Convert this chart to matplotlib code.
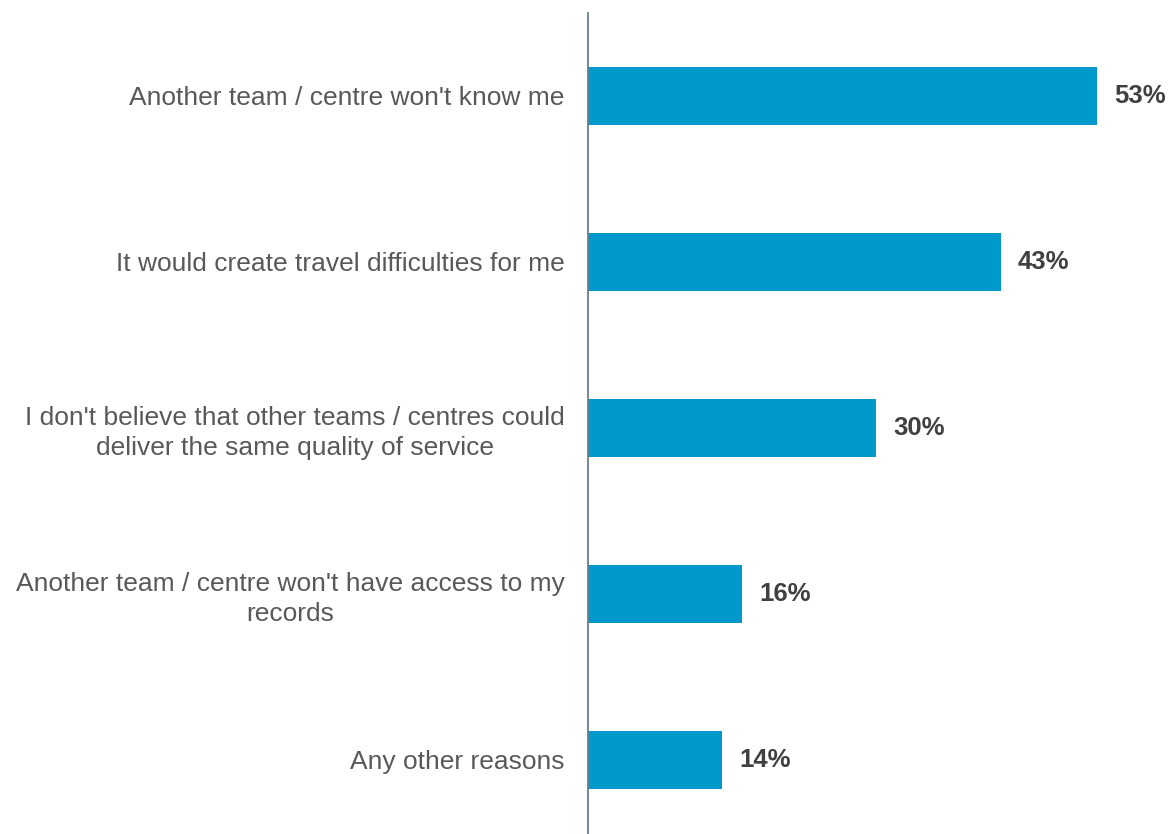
import matplotlib.pyplot as plt

plt.rcParams["font.family"] = ["Liberation Sans", "DejaVu Sans"]

# Reasons and share of respondents (%)
reasons = [
    "Another team / centre won't know me",
    "It would create travel difficulties for me",
    "I don't believe that other teams / centres could\ndeliver the same quality of service",
    "Another team / centre won't have access to my\nrecords",
    "Any other reasons",
]
shares = [53, 43, 30, 16, 14]

bar_color = "#0099CC"
label_color = "#595959"
value_color = "#404040"
axis_color = "#6B7F8E"

fig = plt.figure(figsize=(11.70, 8.34), dpi=100)
ax = fig.add_axes([588 / 1170, 0, 582 / 1170, 821 / 834])

positions = list(range(len(reasons)))
ax.barh(positions, shares, height=0.355, color=bar_color)

for y, v in zip(positions, shares):
    ax.text(v + 1.8, y, f"{v}%", va="center", ha="left",
            fontsize=18.5, fontweight="bold", color=value_color)

ax.set_xlim(0, 582 / 9.6)
ax.set_ylim(4.446, -0.5)

ax.set_yticks(positions)
ax.set_yticklabels(reasons, fontsize=19, color=label_color)
for t in ax.get_yticklabels():
    t.set_multialignment("center")
    t.set_linespacing(1.28)
ax.tick_params(axis="y", length=0, pad=17)
ax.set_xticks([])

for side in ["top", "right", "bottom"]:
    ax.spines[side].set_visible(False)
ax.spines["left"].set_color(axis_color)
ax.spines["left"].set_linewidth(1.3)

fig.savefig("out.png", dpi=100)
